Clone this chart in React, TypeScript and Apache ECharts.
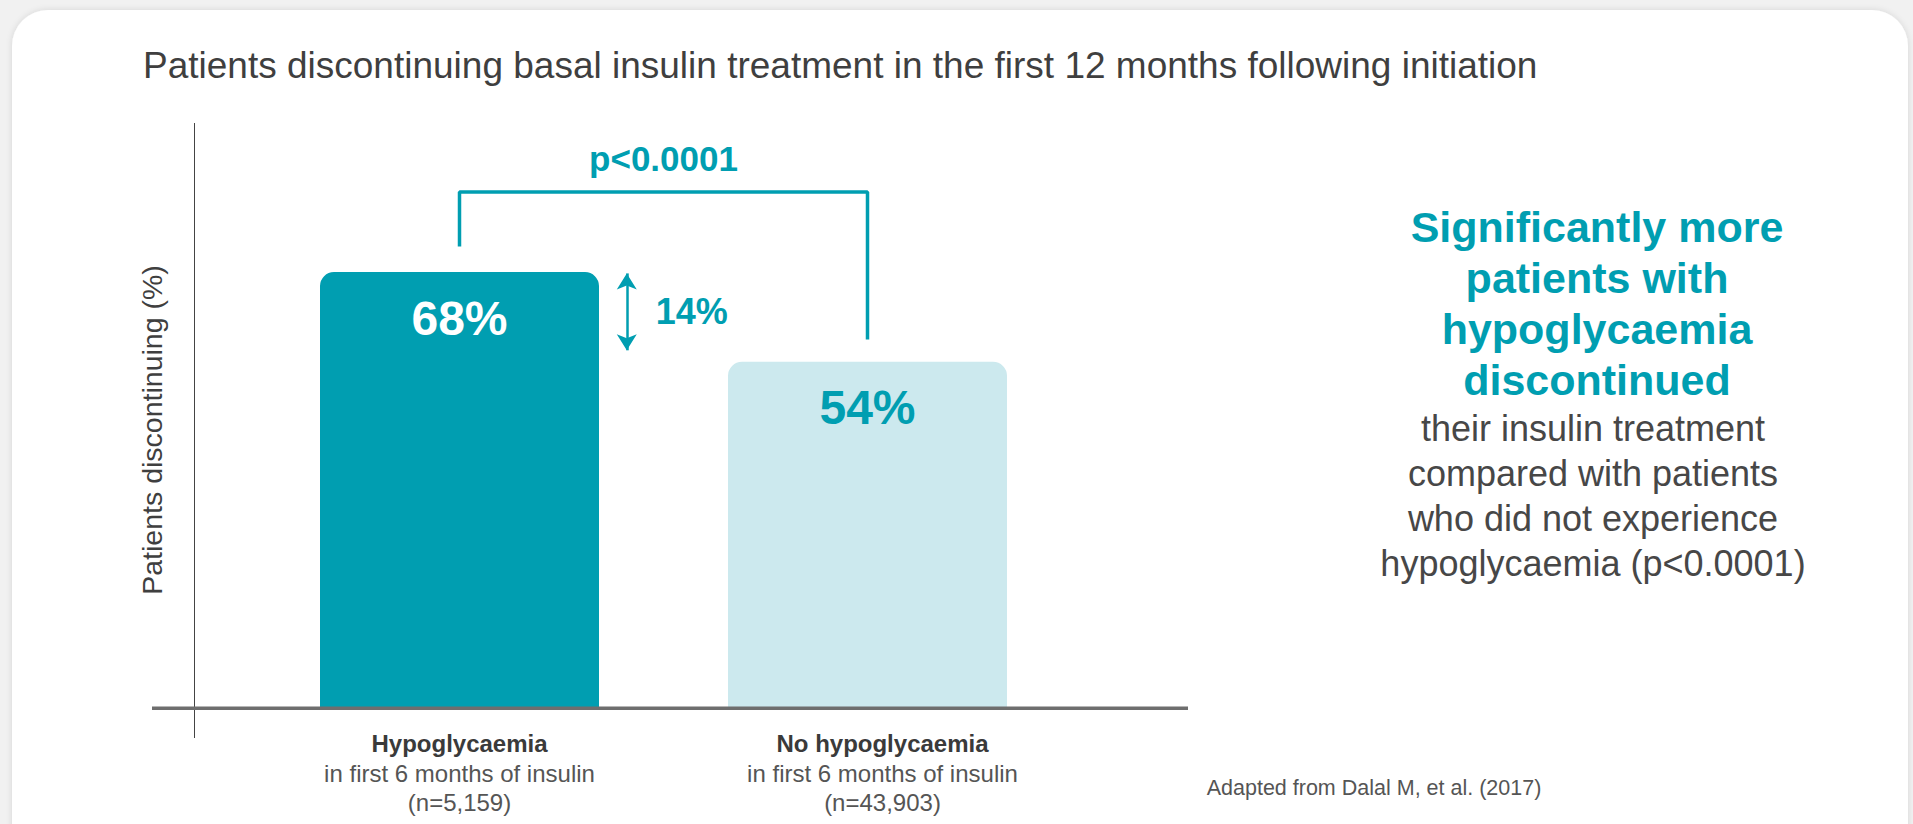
import React, { useEffect, useRef } from "react";
import * as echarts from "echarts";

const categories = ["Hypoglycaemia", "No hypoglycaemia"];
const categorySubLabels = ["in first 6 months of insulin", "in first 6 months of insulin"];
const categoryN = ["(n=5,159)", "(n=43,903)"];
const discontinuedPct = [68, 54];
const barColors = ["#009eb1", "#cce9ee"];
const barLabelColors = ["#ffffff", "#009eb1"];
// significance bracket (x: category index, y: %)
const bracketPoints = [
  [0, 72],
  [0, 80.5],
  [1, 80.5],
  [1, 57.5],
];
const pValueLabel = "p<0.0001";
const differenceLabel = "14%";
const differenceArrow = { x: 0.41, from: 67.8, to: 55.8, mid: 61.8 };
const yAxisTitle = "Patients discontinuing (%)";

const TEAL = "#009eb1";
const FONT = "'Liberation Sans', Arial, Helvetica, sans-serif";

export default function App() {
  const ref = useRef<HTMLDivElement>(null);

  useEffect(() => {
    document.body.style.margin = "0";
    if (!ref.current) return;
    const chart = echarts.init(ref.current, undefined, { renderer: "svg" });
    chart.setOption({
      animation: false,
      backgroundColor: "#f1f1f1",
      textStyle: { fontFamily: FONT },
      grid: { left: 255.5, right: 841.5, top: 67, bottom: 116, containLabel: false },
      xAxis: [
        {
          type: "category",
          data: categories,
          axisLine: { show: false },
          axisTick: { show: false },
          axisLabel: {
            margin: 21,
            interval: 0,
            formatter: (v: string, i: number) => {
              const s = i === 0 ? "" : "2";
              return `{b${s}|${v}}\n{n${s}|${categorySubLabels[i]}}\n{n${s}|${categoryN[i]}}`;
            },
            rich: {
              b: { fontFamily: FONT, fontSize: 24, fontWeight: "bold", color: "#3a3a3a", lineHeight: 29.5 },
              n: { fontFamily: FONT, fontSize: 24, color: "#555555", lineHeight: 29.5 },
              b2: { fontFamily: FONT, fontSize: 24, fontWeight: "bold", color: "#3a3a3a", lineHeight: 29.5, padding: [0, 0, 0, 30] },
              n2: { fontFamily: FONT, fontSize: 24, color: "#555555", lineHeight: 29.5, padding: [0, 0, 0, 30] },
            },
          },
        },
        { type: "value", min: -0.5, max: 1.5, show: false },
      ],
      yAxis: {
        type: "value",
        min: 0,
        max: 100,
        axisLine: { show: false },
        axisTick: { show: false },
        axisLabel: { show: false },
        splitLine: { show: false },
      },
      graphic: [
        {
          type: "rect",
          z: -10,
          shape: { x: 12, y: 10, width: 1896, height: 860, r: 36 },
          style: { fill: "#ffffff", shadowBlur: 6, shadowColor: "rgba(0,0,0,0.12)" },
          silent: true,
        },
        {
          type: "line",
          shape: { x1: 194.5, y1: 123, x2: 194.5, y2: 738 },
          style: { stroke: "#444444", lineWidth: 1 },
          z: 1,
        },
        {
          type: "rect",
          shape: { x: 152, y: 706.5, width: 1036, height: 3.5 },
          style: { fill: "#6e6e6e" },
          z: 10,
        },
        {
          type: "text",
          x: 152,
          y: 430,
          rotation: Math.PI / 2,
          style: {
            text: yAxisTitle,
            font: `28.5px ${FONT}`,
            fill: "#3f3f3f",
            textAlign: "center",
            textVerticalAlign: "middle",
          },
        },
        {
          type: "text",
          x: 143,
          y: 65,
          style: {
            text: "Patients discontinuing basal insulin treatment in the first 12 months following initiation",
            font: `37px ${FONT}`,
            fill: "#3f3f3f",
            textVerticalAlign: "middle",
          },
        },
        {
          type: "text",
          x: 1597,
          y: 201.5,
          style: {
            text: "Significantly more\npatients with\nhypoglycaemia\ndiscontinued",
            font: `bold 43px ${FONT}`,
            fill: TEAL,
            textAlign: "center",
            textVerticalAlign: "top",
            lineHeight: 51,
          },
        },
        {
          type: "text",
          x: 1593,
          y: 405.5,
          style: {
            text: "their insulin treatment\ncompared with patients\nwho did not experience\nhypoglycaemia (p<0.0001)",
            font: `36px ${FONT}`,
            fill: "#474747",
            textAlign: "center",
            textVerticalAlign: "top",
            lineHeight: 45,
          },
        },
        {
          type: "text",
          x: 1374,
          y: 788,
          style: {
            text: "Adapted from Dalal M, et al. (2017)",
            font: `21.5px ${FONT}`,
            fill: "#555555",
            textAlign: "center",
            textVerticalAlign: "middle",
          },
        },
      ],
      series: [
        {
          type: "bar",
          barWidth: 279,
          data: discontinuedPct.map((v, i) => ({
            value: v,
            itemStyle: { color: barColors[i], borderRadius: [14, 14, 0, 0] },
            label: { color: barLabelColors[i] },
          })),
          label: {
            show: true,
            position: "insideTop",
            distance: 22,
            formatter: "{c}%",
            fontFamily: FONT,
            fontSize: 48,
            fontWeight: "bold",
          },
          z: 2,
        },
        {
          type: "line",
          xAxisIndex: 1,
          data: bracketPoints,
          showSymbol: false,
          symbol: "none",
          lineStyle: { color: TEAL, width: 3.5 },
          silent: true,
          markPoint: {
            symbol: "circle",
            symbolSize: 0,
            data: [
              {
                coord: [0.5, bracketPoints[1][1]],
                label: {
                  show: true,
                  formatter: pValueLabel,
                  offset: [0, -33],
                  fontFamily: FONT,
                  fontSize: 35,
                  fontWeight: "bold",
                  color: TEAL,
                },
              },
              {
                coord: [differenceArrow.x, differenceArrow.mid],
                label: {
                  show: true,
                  formatter: differenceLabel,
                  offset: [65, 0],
                  fontFamily: FONT,
                  fontSize: 36,
                  fontWeight: "bold",
                  color: TEAL,
                },
              },
            ],
          },
          markLine: {
            silent: true,
            symbol: ["arrow", "arrow"],
            symbolSize: [15, 16],
            label: { show: false },
            lineStyle: { color: TEAL, width: 2.5, type: "solid" },
            data: [
              [
                { coord: [differenceArrow.x, differenceArrow.from] },
                { coord: [differenceArrow.x, differenceArrow.to] },
              ],
            ],
          },
        },
      ],
    });
    return () => chart.dispose();
  }, []);

  return <div ref={ref} style={{ width: 1913, height: 824 }} />;
}
